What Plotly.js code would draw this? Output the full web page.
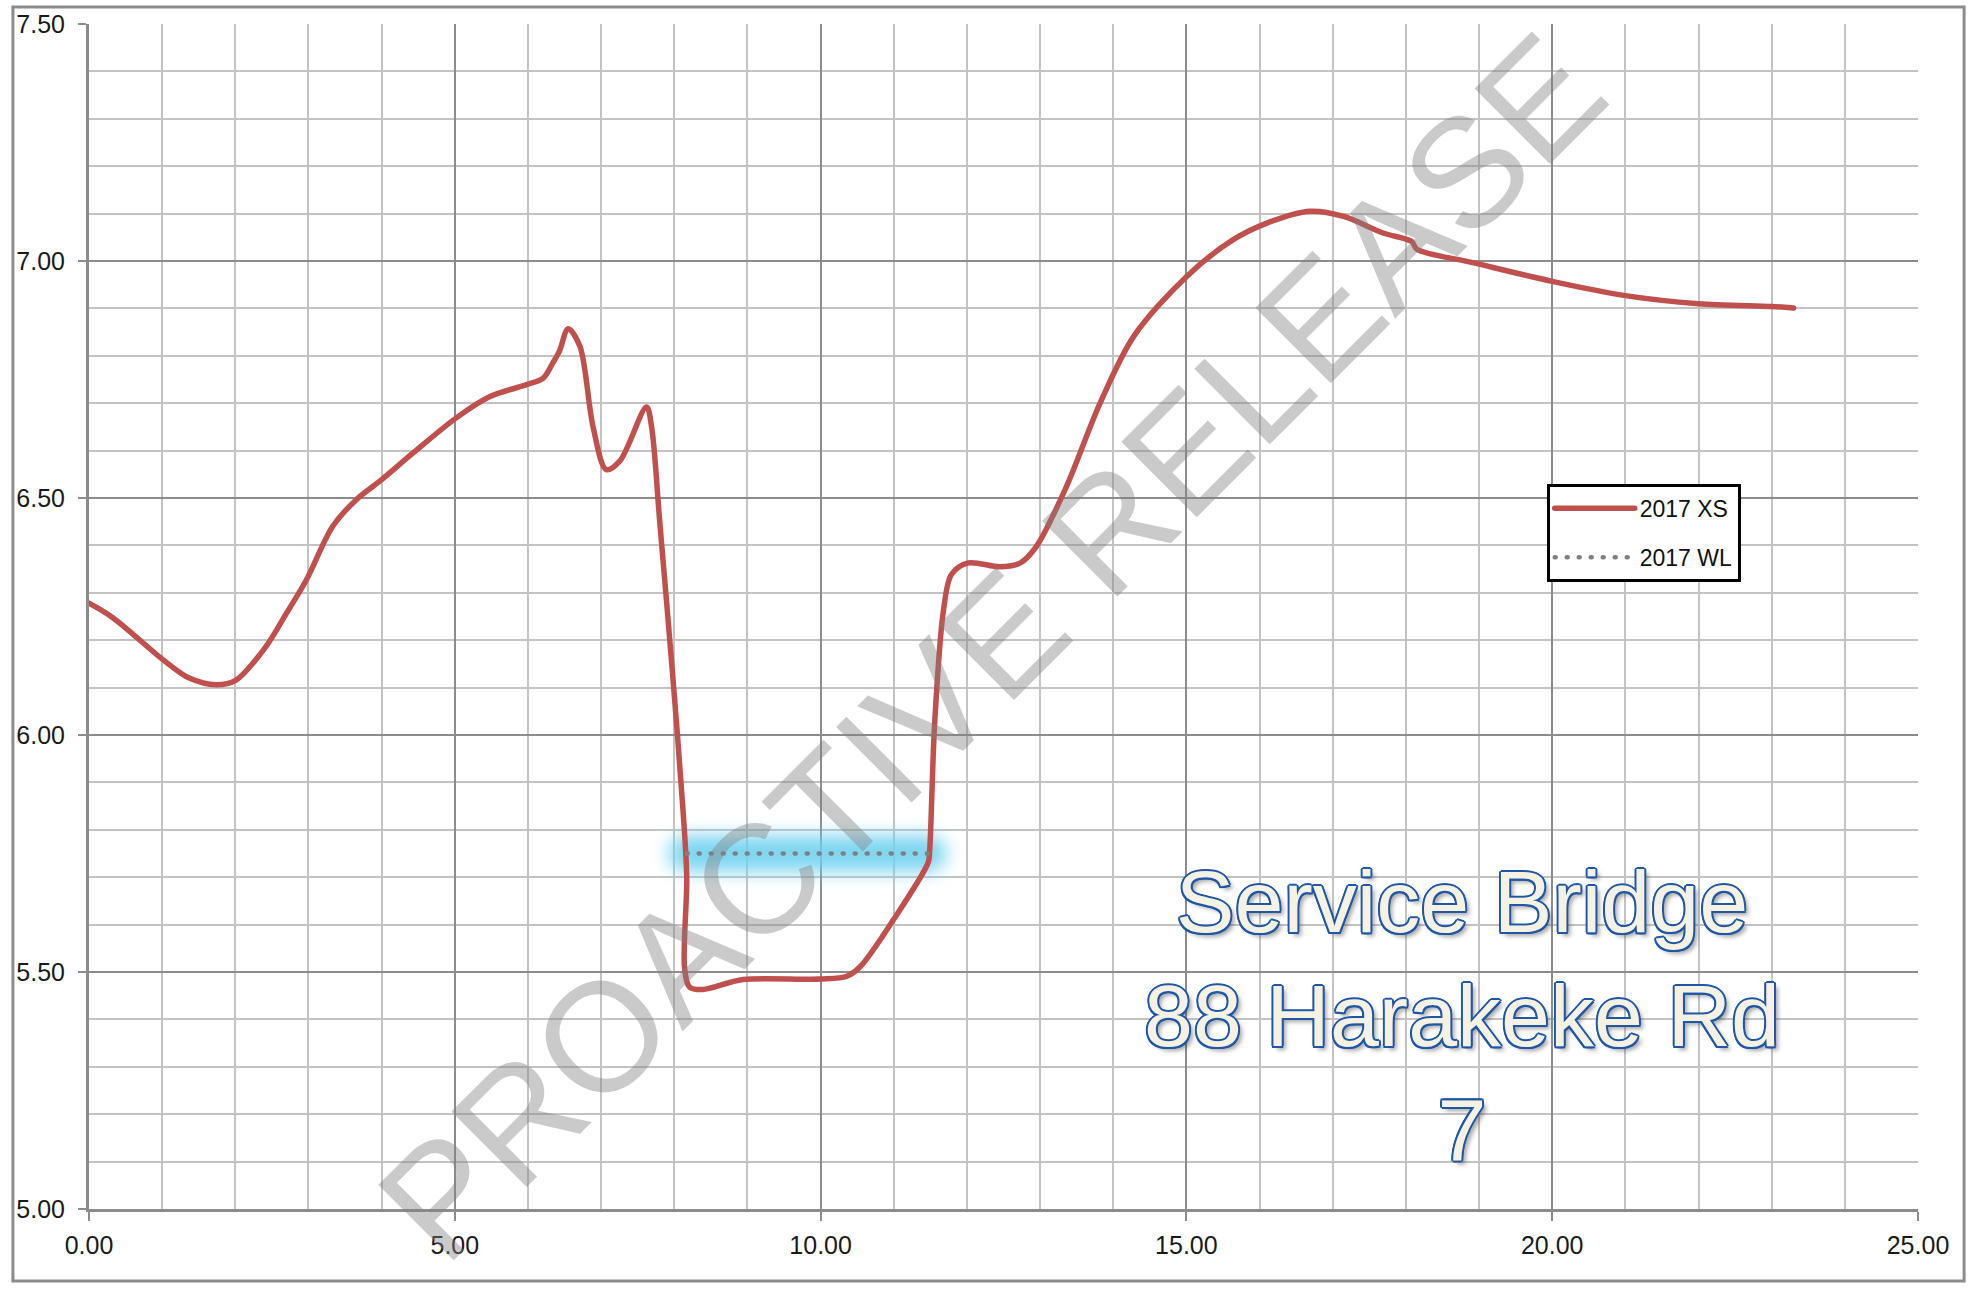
<!DOCTYPE html>
<html>
<head>
<meta charset="utf-8">
<script src="https://cdn.plot.ly/plotly-3.0.1.min.js"></script>
<style>
  html, body { margin: 0; padding: 0; background: #ffffff; }
  #chart { width: 1982px; height: 1299px; }
</style>
</head>
<body>
<div id="chart"></div>
<script>
// ---- Data ----
const xsName = "2017 XS";
const xsChainage = [0, 0.33, 1.01, 1.37, 1.74, 2.01, 2.42, 2.70, 2.97, 3.33, 3.65, 3.97, 4.43, 5.02, 5.48, 5.98, 6.21, 6.34, 6.43, 6.55, 6.71, 6.89, 7.07, 7.26, 7.62, 7.69, 7.80, 7.98, 8.12, 8.17, 8.14, 8.21, 8.39, 8.94, 9.99, 10.36, 10.54, 10.99, 11.47, 11.49, 11.56, 11.68, 11.79, 12.02, 12.45, 12.73, 12.95, 13.36, 13.82, 14.28, 15.00, 15.64, 16.10, 16.69, 17.15, 17.69, 18.08, 18.15, 18.93, 20.00, 21.00, 22.00, 23.00, 23.30];
const xsLevel    = [6.278, 6.247, 6.159, 6.120, 6.106, 6.116, 6.187, 6.257, 6.327, 6.440, 6.496, 6.535, 6.595, 6.669, 6.714, 6.739, 6.753, 6.785, 6.810, 6.857, 6.820, 6.650, 6.560, 6.579, 6.692, 6.650, 6.452, 6.123, 5.840, 5.699, 5.510, 5.468, 5.463, 5.484, 5.485, 5.491, 5.511, 5.609, 5.731, 5.755, 6.028, 6.264, 6.339, 6.363, 6.355, 6.363, 6.398, 6.524, 6.700, 6.841, 6.967, 7.045, 7.080, 7.105, 7.094, 7.059, 7.041, 7.025, 6.996, 6.957, 6.927, 6.910, 6.904, 6.901];

const wlName = "2017 WL";
const wlChainage = [8.17, 11.47];
const wlLevel    = [5.75, 5.75];

const xTickVals = [0, 5, 10, 15, 20, 25];
const xTickText = ["0.00", "5.00", "10.00", "15.00", "20.00", "25.00"];
const yTickVals = [5.0, 5.5, 6.0, 6.5, 7.0, 7.5];
const yTickText = ["5.00", "5.50", "6.00", "6.50", "7.00", "7.50"];

const siteLabel = "Service Bridge<br>88 Harakeke Rd<br>7";
const watermark = "PROACTIVE RELEASE";

// ---- Styling ----
const FONT = "Liberation Sans, Arial, sans-serif";
const majorGrid = "#8c8c8c";
const minorGrid = "#c3c3c3";
const blue = "#1f56a6";

const outline = [
  "2px 0 0 " + blue, "-2px 0 0 " + blue, "0 2px 0 " + blue, "0 -2px 0 " + blue,
  "1.5px 1.5px 0 " + blue, "-1.5px -1.5px 0 " + blue, "1.5px -1.5px 0 " + blue, "-1.5px 1.5px 0 " + blue,
  "4px 4px 4px rgba(60,60,60,0.45)"
].join(", ");

const traces = [
  { // glow behind water level
    x: wlChainage, y: wlLevel, type: "scatter", mode: "lines",
    line: { color: "rgba(110,208,240,0.9)", width: 36 },
    showlegend: false, hoverinfo: "skip"
  },
  {
    x: xsChainage, y: xsLevel, type: "scatter", mode: "lines", name: xsName,
    line: { color: "#c0504d", width: 5.5, shape: "spline", smoothing: 0.9 },
    legendgroup: "a"
  },
  {
    x: wlChainage, y: wlLevel, type: "scatter", mode: "lines", name: wlName,
    line: { color: "#808080", width: 4.5, dash: "1px,11px" },
    legendgroup: "b"
  }
];

const axisCommon = {
  showline: true, linecolor: majorGrid, linewidth: 3,
  showgrid: true, gridcolor: majorGrid, gridwidth: 2,
  zeroline: false,
  ticks: "outside", tickcolor: majorGrid, tickwidth: 2,
  tickfont: { family: FONT, size: 25, color: "#1a1a1a" },
  tickmode: "array"
};

const layout = {
  width: 1982, height: 1299,
  paper_bgcolor: "#ffffff", plot_bgcolor: "#ffffff",
  margin: { l: 89, r: 64, t: 24, b: 90, pad: 0 },
  showlegend: true,
  xaxis: Object.assign({}, axisCommon, {
    range: [0, 25], tickvals: xTickVals, ticktext: xTickText,
    ticklen: 9, ticklabelstandoff: 3,
    minor: { dtick: 1, tick0: 0, showgrid: true, gridcolor: minorGrid, gridwidth: 2, ticks: "" }
  }),
  yaxis: Object.assign({}, axisCommon, {
    range: [5, 7.5], tickvals: yTickVals, ticktext: yTickText,
    ticklen: 8, ticklabelstandoff: 8,
    minor: { dtick: 0.1, tick0: 5, showgrid: true, gridcolor: minorGrid, gridwidth: 2, ticks: "" }
  }),
  legend: {
    x: 0.797, y: 0.612, xanchor: "left", yanchor: "top",
    bgcolor: "#ffffff", bordercolor: "#000000", borderwidth: 3,
    font: { family: FONT, size: 23, color: "#111111" },
    itemwidth: 80,
    traceorder: "grouped", tracegroupgap: 16
  },
  shapes: [
    { type: "rect", xref: "paper", yref: "paper",
      x0: -0.0416, x1: 1.0252, y0: -0.0608, y1: 1.0143,
      line: { color: "#8c8c8c", width: 3 }, layer: "above" }
  ],
  annotations: [
    {
      text: siteLabel, xref: "paper", yref: "paper", x: 0.7507, y: 0.163,
      xanchor: "center", yanchor: "middle", align: "center", showarrow: false,
      font: { family: FONT, size: 88, color: "#f5f2e4", shadow: outline }
    },
    {
      text: watermark, xref: "paper", yref: "paper", x: 0.4937, y: 0.4743,
      xanchor: "center", yanchor: "middle", showarrow: false, textangle: -45,
      font: { family: FONT, size: 155, color: "rgba(128,128,128,0.42)" }
    }
  ]
};

Plotly.newPlot("chart", traces, layout, { displayModeBar: false, staticPlot: true }).then(function (gd) {
  const svg = gd.querySelector(".main-svg");
  const NS = "http://www.w3.org/2000/svg";
  let defs = svg.querySelector("defs");
  if (!defs) { defs = document.createElementNS(NS, "defs"); svg.insertBefore(defs, svg.firstChild); }
  const filter = document.createElementNS(NS, "filter");
  filter.setAttribute("id", "wlglow");
  filter.setAttribute("filterUnits", "userSpaceOnUse");
  filter.setAttribute("x", "-3000"); filter.setAttribute("y", "-3000");
  filter.setAttribute("width", "8000"); filter.setAttribute("height", "8000");
  const blur = document.createElementNS(NS, "feGaussianBlur");
  blur.setAttribute("stdDeviation", "9");
  filter.appendChild(blur);
  defs.appendChild(filter);

  const tr = gd.querySelectorAll(".scatterlayer .trace");
  if (tr[0]) {
    const p = tr[0].querySelector(".js-line");
    if (p) { p.setAttribute("filter", "url(#wlglow)"); }
  }
  gd.querySelectorAll(".js-line").forEach(function (p) { p.style.strokeLinecap = "round"; });
});
</script>
</body>
</html>
